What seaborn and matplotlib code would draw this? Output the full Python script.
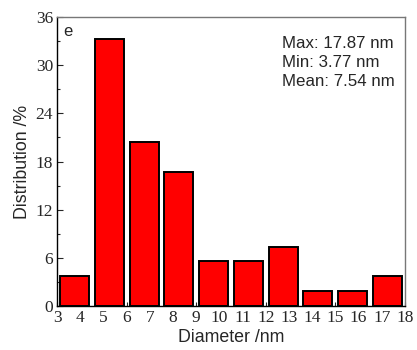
import numpy as np
import pandas as pd
import matplotlib
matplotlib.use("Agg")
import matplotlib.pyplot as plt
import seaborn as sns

# Data
bin_centers = [3.75, 5.25, 6.75, 8.25, 9.75, 11.25, 12.75, 14.25, 15.75, 17.25]
distribution = [3.7, 33.3, 20.4, 16.7, 5.6, 5.6, 7.4, 1.85, 1.85, 3.7]
bin_edges = [3, 4.5, 6, 7.5, 9, 10.5, 12, 13.5, 15, 16.5, 18]
x_ticks = list(range(3, 19))
y_ticks = [0, 6, 12, 18, 24, 30, 36]
stats_lines = ["Max: 17.87 nm", "Min: 3.77 nm", "Mean: 7.54 nm"]

df = pd.DataFrame({"d": bin_centers, "w": distribution})

sns.set_style("ticks")
fig = plt.figure(figsize=(4.17, 3.5), dpi=100)
ax = fig.add_axes([0.137, 0.126, 0.834, 0.825])

sns.histplot(data=df, x="d", weights="w", bins=bin_edges, shrink=0.833,
             color="#ff0000", edgecolor="black", linewidth=1.4, alpha=1,
             ax=ax)

ax.set_xlim(3, 18)
ax.set_ylim(0, 36)
ax.set_xticks(x_ticks)
ax.set_yticks(y_ticks)
ax.set_yticks([3, 9, 15, 21, 27, 33], minor=True)
ax.tick_params(axis="both", which="both", direction="in", length=4, width=0.8,
               labelsize=12.5, pad=3)
ax.tick_params(axis="y", which="minor", length=2.5)
ax.tick_params(axis="x", which="major", length=3)
for lab in ax.get_xticklabels() + ax.get_yticklabels():
    lab.set_family("Liberation Serif")

for s in ["left", "bottom"]:
    ax.spines[s].set_color("black")
    ax.spines[s].set_linewidth(1.0)
for s in ["top", "right"]:
    ax.spines[s].set_color("#777777")
    ax.spines[s].set_linewidth(1.0)
    ax.spines[s].set_visible(True)

ax.set_xlabel("Diameter /nm", fontsize=12.8, family="Liberation Sans", labelpad=2)
ax.set_ylabel("Distribution /%", fontsize=12.8, family="Liberation Sans", labelpad=3)

ax.text(0.018, 0.975, "e", transform=ax.transAxes, ha="left", va="top",
        fontsize=12, family="Liberation Sans")
ax.text(0.648, 0.935, "\n".join(stats_lines), transform=ax.transAxes,
        ha="left", va="top", fontsize=12.2, family="Liberation Sans",
        linespacing=1.32)

fig.savefig("out.png", dpi=100)
